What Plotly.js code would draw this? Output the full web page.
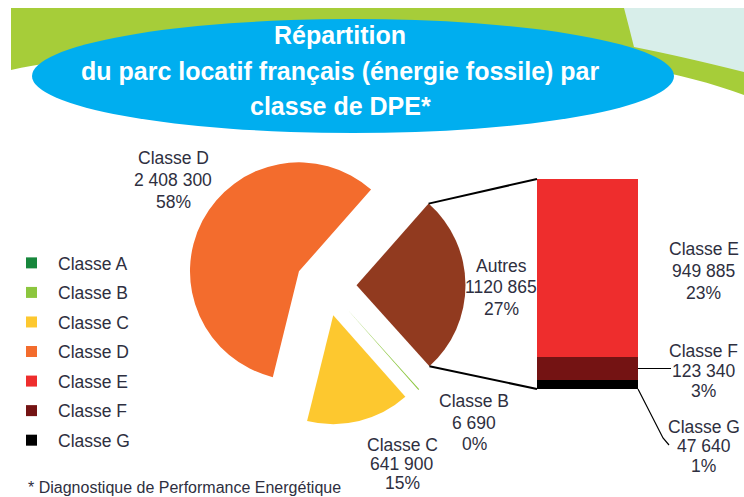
<!DOCTYPE html>
<html><head><meta charset="utf-8">
<script src="https://cdn.plot.ly/plotly-3.0.1.min.js"></script>
<style>html,body{margin:0;padding:0;background:#fff}#chart{width:744px;height:497px}</style>
</head><body><div id="chart"></div>
<script>
// ---- data ----
const legendCategories = ['Classe A','Classe B','Classe C','Classe D','Classe E','Classe F','Classe G'];
const legendColors = ['#17873c','#8cc63e','#fdc82f','#f36c2d','#ee2d2d','#741313','#000000'];
const pieLabels = ['Classe A','Classe B','Classe C','Classe D','Autres'];
const pieValues = [0, 6690, 641900, 2408300, 1120865];
const pieColors = ['#17873c','#8cc63e','#fdc82f','#f36c2d','#913a1f'];
const barLabels = ['Classe G','Classe F','Classe E'];
const barValues = [47640, 123340, 949885];
const barColors = ['#000000','#741313','#ee2d2d'];
const titleLines = ['Répartition','du parc locatif français (énergie fossile) par','classe de DPE*'];
const footnote = '* Diagnostique de Performance Energétique';

// ---- layout constants ----
const W = 744, H = 497;
const FONT = 'Liberation Sans, Arial, sans-serif';
const TXT = '#2e2f40';
const pull = 0.28, rotation = 138;
const pieDomX = [186.5/W, 465.5/W], pieDomY = [1-425/H, 1-146/H];
const barDomX = [537/W, 638/W], barDomY = [1-389/H, 1-179/H];

// label placements (center x, line y's, compact number) in pixels
const labelPos = {
  'Classe D': [173, [158, 180, 202], false],
  'Autres':   [501, [265.5, 287, 309], true],
  'Classe B': [474, [401, 422.5, 443.5], false],
  'Classe C': [402, [444.7, 464, 483], false],
  'Classe E': [703.5, [249, 271, 292.5], false],
  'Classe F': [703.5, [350.5, 371, 391], false],
  'Classe G': [703.5, [426.5, 446, 466], false]
};

const total = pieValues.reduce((a,b)=>a+b,0);
const fmt = (v, compact) => {
  const s = String(v).replace(/\B(?=(\d{3})+(?!\d))/g, ' ');
  return compact ? s.replace(' ', '') : s;
};
const pct = v => Math.round(v/total*100) + '%';

const annotations = [];
function ann(text, x, y, size, color, bold, xanchor){
  annotations.push({xref:'x2', yref:'y2', x:x, y:y, text: bold ? '<b>'+text+'</b>' : text,
    showarrow:false, xanchor: xanchor || 'center', yanchor:'middle',
    font:{family:FONT, size:size, color:color}});
}
// title
const titleY = [35, 71, 106];
titleLines.forEach((t,i)=> ann(t, 340, titleY[i], 25, '#ffffff', true));
// data labels
function addLabel(name, value){
  const p = labelPos[name]; if(!p) return;
  [name, fmt(value, p[2]), pct(value)].forEach((t,i)=> ann(t, p[0], p[1][i], 17.5, TXT, false));
}
pieLabels.forEach((l,i)=> addLabel(l, pieValues[i]));
barLabels.forEach((l,i)=> addLabel(l, barValues[i]));
ann(footnote, 26, 487, 16, TXT, false, 'left');

// ---- geometry for connectors ----
const boxW = W*(pieDomX[1]-pieDomX[0]), boxH = H*(pieDomY[1]-pieDomY[0]);
const R = Math.min(boxW, boxH)/2/(1+pull);
const cx = W*(pieDomX[0]+pieDomX[1])/2, cy = H*(1-(pieDomY[0]+pieDomY[1])/2);
const iA = pieLabels.indexOf('Autres');
const before = pieValues.slice(0,iA).reduce((a,b)=>a+b,0);
const th0 = (rotation + 360*before/total)*Math.PI/180;
const th1 = (rotation + 360*(before+pieValues[iA])/total)*Math.PI/180;
const mid = (th0+th1)/2;
const ax = cx + pull*R*Math.sin(mid), ay = cy - pull*R*Math.cos(mid);
const topPt = [ax + R*Math.sin(th0), ay - R*Math.cos(th0)];
const botPt = [ax + R*Math.sin(th1), ay - R*Math.cos(th1)];
const barL = W*barDomX[0], barR = W*barDomX[1];
const barTop = H*(1-barDomY[1]), barBot = H*(1-barDomY[0]);
const barSum = barValues.reduce((a,b)=>a+b,0);
const yPix = v => barBot - (barBot-barTop)*v/barSum;
const fMid = yPix(barValues[0] + barValues[1]/2);

const shapes = [
  {type:'path', xref:'x2', yref:'y2', layer:'below', path:'M 11 8 L 744 8 L 744 95 C 550 22, 150 40, 11 70 Z', fillcolor:'#a6cd39', line:{width:0}},
  {type:'path', xref:'x2', yref:'y2', layer:'below', path:'M 624 8 L 744 8 L 744 72 Q 680 56 634 47 Q 629 27 624 8 Z', fillcolor:'#d8eeea', line:{width:0}},
  {type:'circle', xref:'x2', yref:'y2', layer:'below', x0:32, x1:674, y0:19, y1:133, fillcolor:'#00aeef', line:{width:0}},
  {type:'line', xref:'x2', yref:'y2', x0:topPt[0], y0:topPt[1], x1:barL, y1:barTop, line:{color:'#000', width:2}},
  {type:'line', xref:'x2', yref:'y2', x0:botPt[0], y0:botPt[1], x1:barL, y1:barBot, line:{color:'#000', width:2}},
  {type:'line', xref:'x2', yref:'y2', x0:barR, y0:fMid, x1:671, y1:fMid, line:{color:'#000', width:1.2}},
  {type:'path', xref:'x2', yref:'y2', path:'M '+barR+' '+barBot+' L 663 438 L 669 445', line:{color:'#000', width:1.2}}
];

// ---- traces ----
const traces = [];
traces.push({type:'pie', labels:pieLabels, values:pieValues, sort:false, direction:'clockwise',
  rotation:rotation, pull:pieLabels.map(()=>pull), marker:{colors:pieColors, line:{width:0}},
  textinfo:'none', showlegend:false, domain:{x:pieDomX, y:pieDomY}, hoverinfo:'label+value+percent'});
barLabels.forEach((l,i)=> traces.push({type:'bar', name:l, x:[0], y:[barValues[i]], width:1,
  marker:{color:barColors[i], line:{width:0}}, showlegend:false, xaxis:'x', yaxis:'y'}));
legendCategories.forEach((c,i)=> traces.push({type:'scatter', mode:'markers', name:c, legendgroup:c,
  x:[null], y:[null], xaxis:'x2', yaxis:'y2', marker:{symbol:'square', size:11, color:legendColors[i]}}));

const layout = {
  width:W, height:H, margin:{l:0,r:0,t:0,b:0},
  paper_bgcolor:'#ffffff', plot_bgcolor:'rgba(0,0,0,0)',
  barmode:'stack', bargap:0,
  xaxis:{domain:barDomX, range:[-0.5,0.5], visible:false, anchor:'y'},
  yaxis:{domain:barDomY, range:[0,barSum], visible:false, anchor:'x'},
  xaxis2:{domain:[0,1], range:[0,W], visible:false, anchor:'y2'},
  yaxis2:{domain:[0,1], range:[H,0], visible:false, anchor:'x2'},
  showlegend:true,
  legend:{x:5/W, y:1-245/H, xanchor:'left', yanchor:'top', bgcolor:'rgba(0,0,0,0)', borderwidth:0,
    font:{family:FONT, size:17.5, color:TXT}, itemwidth:43, traceorder:'grouped', tracegroupgap:3.8},
  shapes:shapes, annotations:annotations
};
Plotly.newPlot('chart', traces, layout, {displayModeBar:false, staticPlot:true});
</script></body></html>
